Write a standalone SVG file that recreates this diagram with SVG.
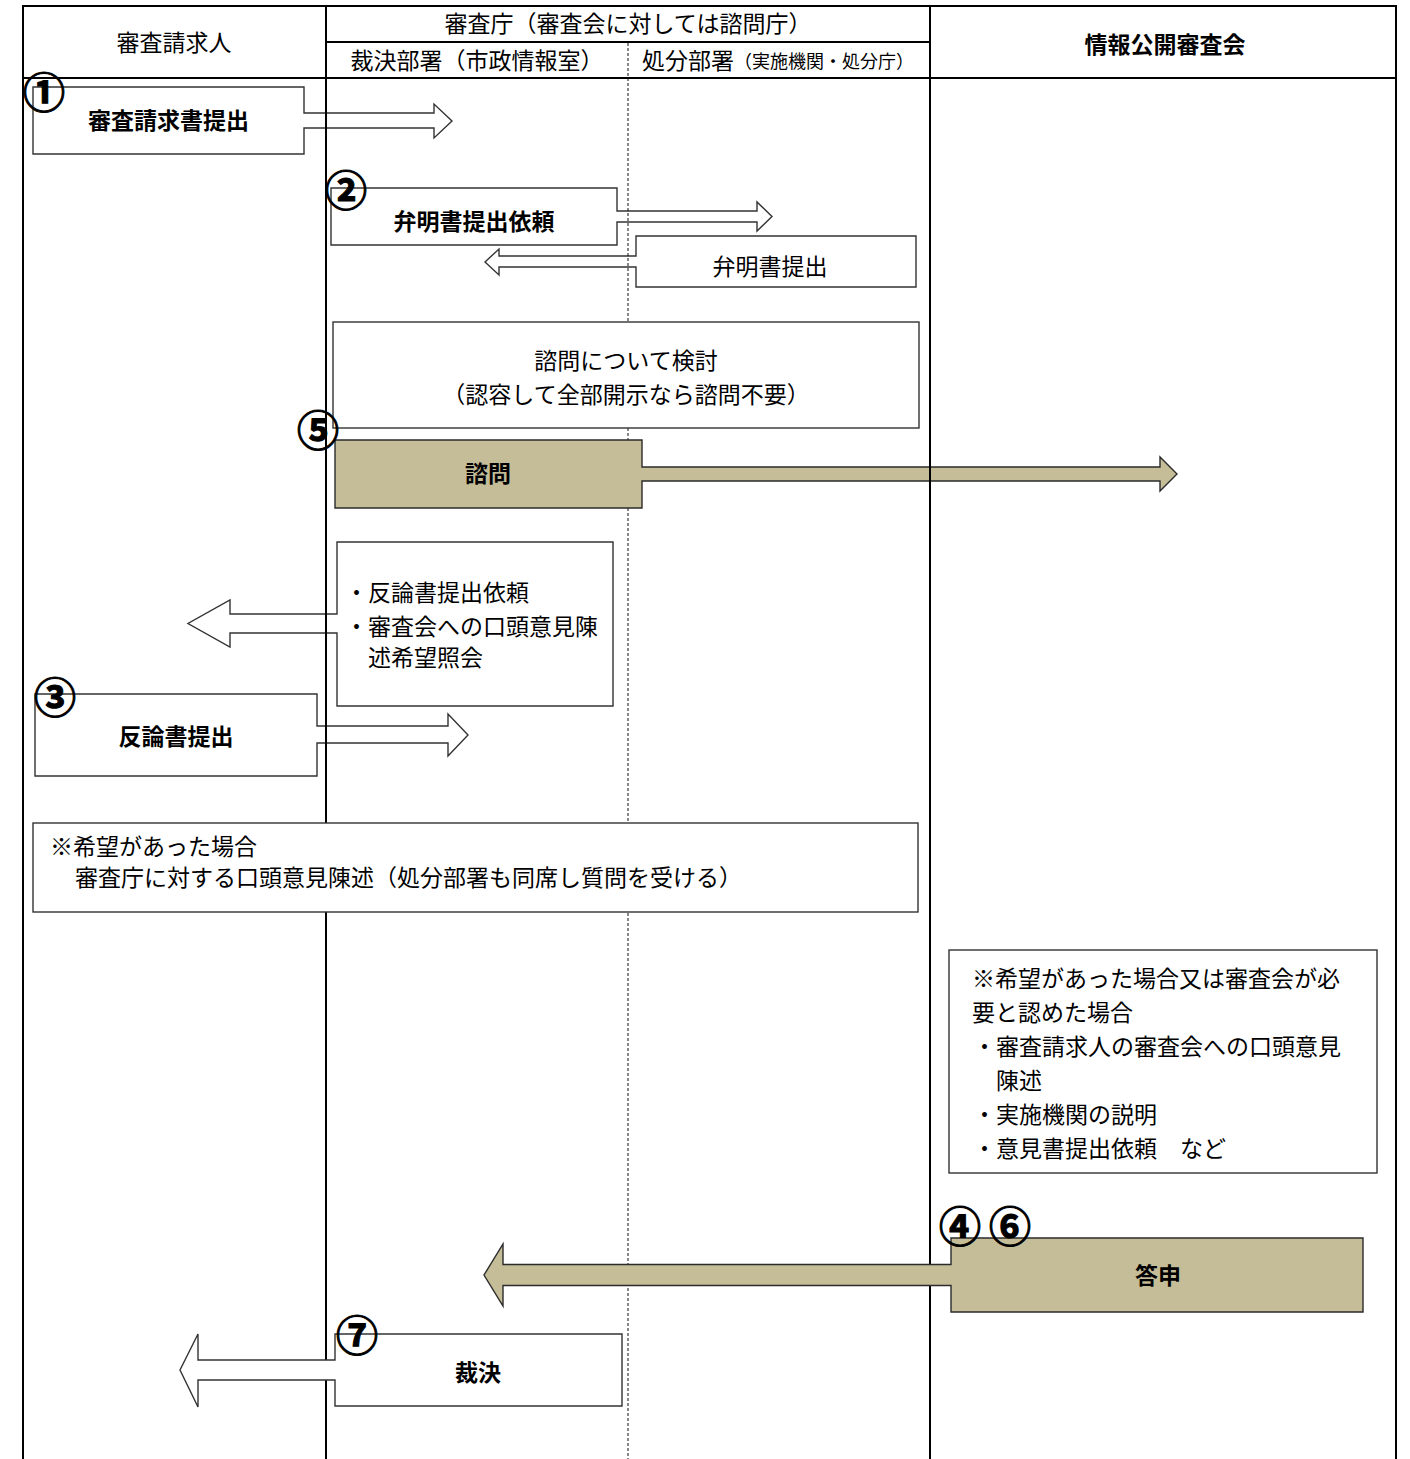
<svg xmlns="http://www.w3.org/2000/svg" width="1410" height="1459" viewBox="0 0 1410 1459">
<style>
.t{font-family:"Noto Sans CJK JP","Noto Sans CJK SC",sans-serif;font-size:23px;fill:#000}
.b{font-weight:bold}
.c{text-anchor:middle}
.num{font-family:"Noto Sans CJK JP","Noto Sans CJK SC",sans-serif;font-size:42px;font-weight:bold;text-anchor:middle;fill:#000;stroke:#000;stroke-width:1.1}
.box{fill:#fff;stroke:#333;stroke-width:1.4}
.tan{fill:#C4BD97;stroke:#2b2b2b;stroke-width:1.4}
.ln{stroke:#000;stroke-width:2;fill:none}
.dash{stroke:#111;stroke-width:1;stroke-dasharray:3 2;fill:none}
</style>
<rect width="1410" height="1459" fill="#fff"/>

<g id="node-shinsa-seikyusho">
<polygon class="box" points="33,87 304,87 304,113 434,113 434,104 452,121 434,138 434,128 304,128 304,154 33,154"/>
<text class="t b c" x="168.5" y="129">審査請求書提出</text>
</g>
<g id="node-benmeisho-irai">
<polygon class="box" points="331,188 617,188 617,211 757,211 757,202 772,216.5 757,231 757,222 617,222 617,245 331,245"/>
<text class="t b c" x="474" y="230">弁明書提出依頼</text>
</g>
<g id="node-benmeisho">
<polygon class="box" points="636,236 916,236 916,287 636,287 636,267 499,267 499,275 485,262 499,249 499,256 636,256"/>
<text class="t c" x="770" y="275">弁明書提出</text>
</g>
<g id="node-hanron-irai">
<polygon class="box" points="337,542 613,542 613,706 337,706 337,633 230,633 230,647 188,623.5 230,600 230,614 337,614"/>
<text class="t" x="345" y="601">・反論書提出依頼</text>
<text class="t" x="345" y="635">・審査会への口頭意見陳</text>
<text class="t" x="368" y="666">述希望照会</text>
</g>
<g id="node-hanronsho">
<polygon class="box" points="35,694 317,694 317,726 448,726 448,714 468,735 448,756 448,743 317,743 317,776 35,776"/>
<text class="t b c" x="176" y="745">反論書提出</text>
</g>
<g id="node-shinsakai-note">
<rect class="box" x="949" y="950" width="428" height="223"/>
<text class="t" x="972" y="987">※希望があった場合又は審査会が必</text>
<text class="t" x="972" y="1021">要と認めた場合</text>
<text class="t" x="973" y="1055">・審査請求人の審査会への口頭意見</text>
<text class="t" x="996" y="1089">陳述</text>
<text class="t" x="973" y="1123">・実施機関の説明</text>
<text class="t" x="973" y="1157">・意見書提出依頼　など</text>
</g>

<g id="lanes">
<path class="ln" d="M22 6H1397M22 78H1397M326 42H930M23 5V1459M326 5V1459M1396 5V1459"/>
<path class="dash" d="M628 43V1459"/>
<text class="t c" x="174" y="51">審査請求人</text>
<text class="t c" x="628" y="32">審査庁（審査会に対しては諮問庁）</text>
<text class="t c" x="477" y="69">裁決部署（市政情報室）</text>
<text class="t" x="642" y="69">処分部署<tspan font-size="18" dy="-1">（実施機関・処分庁）</tspan></text>
<text class="t b c" x="1165" y="53">情報公開審査会</text>
</g>

<g id="node-shimon">
<polygon class="tan" points="335,440 642,440 642,467 1160,467 1160,457 1177,474 1160,491 1160,481 642,481 642,508 335,508"/>
<text class="t b c" x="488" y="482">諮問</text>
</g>
<g id="node-shimon-kento">
<rect class="box" x="333" y="322" width="586" height="106"/>
<text class="t c" x="626" y="369">諮問について検討</text>
<text class="t c" x="626" y="403">（認容して全部開示なら諮問不要）</text>
</g>
<g id="node-koto-iken">
<rect class="box" x="33" y="823" width="885" height="89"/>
<text class="t" x="50" y="855">※希望があった場合</text>
<text class="t" x="75" y="886">審査庁に対する口頭意見陳述（処分部署も同席し質問を受ける）</text>
</g>
<g id="node-saiketsu">
<polygon class="box" points="335,1334 622,1334 622,1406 335,1406 335,1380 198,1380 198,1407 180,1370 198,1334 198,1360 335,1360"/>
<text class="t b c" x="478" y="1381">裁決</text>
</g>

<g id="lane-divider-right">
<path class="ln" d="M930 5V1459"/>
</g>

<g id="node-toshin">
<polygon class="tan" points="951,1238 1363,1238 1363,1312 951,1312 951,1285.5 503,1285.5 503,1306 484,1275 503,1244 503,1264.5 951,1264.5"/>
<text class="t b c" x="1158" y="1284">答申</text>
</g>

<g id="step-numbers">
<text class="num" x="44" y="108">①</text>
<text class="num" x="346" y="206">②</text>
<text class="num" x="318" y="446">⑤</text>
<text class="num" x="55" y="713">③</text>
<text class="num" y="1242"><tspan x="960">④</tspan><tspan x="1010">⑥</tspan></text>
<text class="num" x="357" y="1351">⑦</text>
</g>
</svg>
